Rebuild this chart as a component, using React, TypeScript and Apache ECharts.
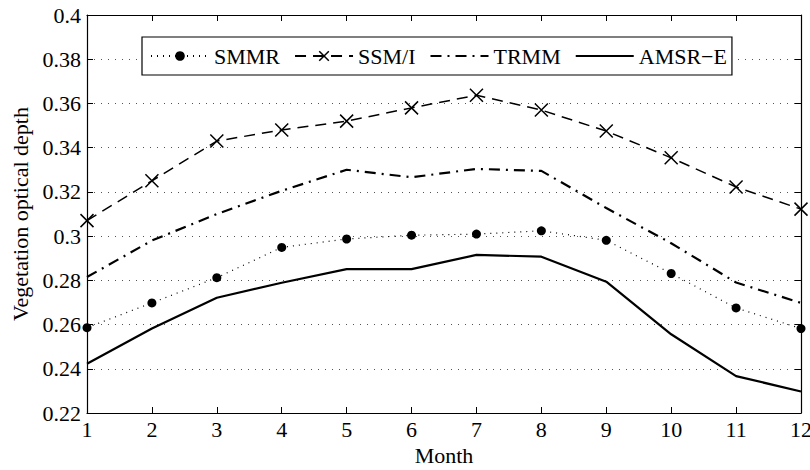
import React, { useEffect, useRef } from "react";
import * as echarts from "echarts";

const months = [1, 2, 3, 4, 5, 6, 7, 8, 9, 10, 11, 12];
const smmr = [0.2586, 0.2698, 0.2812, 0.2949, 0.2987, 0.3004, 0.3009, 0.3024, 0.2981, 0.2831, 0.2675, 0.2582];
const ssmi = [0.307, 0.325, 0.343, 0.348, 0.352, 0.358, 0.3637, 0.357, 0.3475, 0.3354, 0.3222, 0.3122];
const trmm = [0.2815, 0.298, 0.31, 0.3205, 0.33, 0.3266, 0.3304, 0.3295, 0.3127, 0.2968, 0.279, 0.2698];
const amsre = [0.2423, 0.2582, 0.2721, 0.2789, 0.2851, 0.2851, 0.2915, 0.2907, 0.2794, 0.2556, 0.2367, 0.2297];
const seriesNames = ["SMMR", "SSM/I", "TRMM", "AMSR\u2212E"];

const FONT = "Liberation Serif";

export default function App() {
  const ref = useRef<HTMLDivElement>(null);
  useEffect(() => {
    const chart = echarts.init(ref.current!, null, { renderer: "svg" });
    const pair = (arr: number[]) => arr.map((v, i) => [months[i], v]);
    const common = { color: "#000", fontFamily: FONT, fontSize: 22 };
    const frameAxis = {
      axisLine: { show: true, onZero: false, lineStyle: { color: "#000", width: 1.2 } },
      axisTick: { show: true, inside: true, length: 6, lineStyle: { color: "#000", width: 1 } },
    };
    chart.setOption({
      animation: false,
      backgroundColor: "#fff",
      grid: { left: 87, right: 9, top: 15, bottom: 57, show: false, outerBoundsMode: "none", containLabel: false },
      legend: {
        left: 142,
        top: 37,
        orient: "horizontal",
        itemWidth: 58,
        itemHeight: 12,
        itemGap: 14,
        padding: [8, 5, 8, 8],
        borderColor: "#000",
        borderWidth: 1.2,
        backgroundColor: "#fff",
        textStyle: { ...common },
        data: [
          { name: seriesNames[0] },
          { name: seriesNames[1], itemStyle: { color: "none", borderColor: "#000", borderWidth: 1.5 } },
          { name: seriesNames[2], itemStyle: { opacity: 0 } },
          { name: seriesNames[3], itemStyle: { opacity: 0 } },
        ],
      },
      xAxis: [
        {
          type: "value",
          min: 1,
          max: 12,
          interval: 1,
          name: "Month",
          nameLocation: "middle",
          nameGap: 30,
          nameTextStyle: { ...common },
          ...frameAxis,
          axisLabel: { ...common, margin: 5 },
          splitLine: { show: false },
        },
        {
          type: "value",
          position: "top",
          min: 1,
          max: 12,
          interval: 1,
          ...frameAxis,
          axisLabel: { show: false },
          splitLine: { show: false },
        },
      ],
      yAxis: [
        {
          type: "value",
          min: 0.22,
          max: 0.4,
          interval: 0.02,
          name: "Vegetation optical depth",
          nameLocation: "middle",
          nameGap: 54,
          nameRotate: 90,
          nameTextStyle: { ...common },
          ...frameAxis,
          axisLabel: {
            ...common,
            margin: 6,
            formatter: (v: number) => String(parseFloat(v.toFixed(2))),
          },
          splitLine: { show: true, lineStyle: { color: "#555", type: [1, 6], width: 1 } },
        },
        {
          type: "value",
          position: "right",
          min: 0.22,
          max: 0.4,
          interval: 0.02,
          ...frameAxis,
          axisLabel: { show: false },
          splitLine: { show: false },
        },
      ],
      series: [
        {
          name: seriesNames[0],
          type: "line",
          data: pair(smmr),
          symbol: "circle",
          symbolSize: 9,
          itemStyle: { color: "#000" },
          lineStyle: { color: "#000", width: 1.2, type: [1, 5] },
          z: 3,
        },
        {
          name: seriesNames[1],
          type: "line",
          data: pair(ssmi),
          symbol: "path://M0,0L10,10M10,0L0,10",
          symbolSize: 13,
          itemStyle: { color: "none", borderColor: "#000", borderWidth: 1.5 },
          lineStyle: { color: "#000", width: 1.5, type: [11, 7] },
          z: 3,
        },
        {
          name: seriesNames[2],
          type: "line",
          data: pair(trmm),
          symbol: "none",
          itemStyle: { color: "#000" },
          lineStyle: { color: "#000", width: 2.2, type: [11, 6, 2, 6] },
          z: 3,
        },
        {
          name: seriesNames[3],
          type: "line",
          data: pair(amsre),
          symbol: "none",
          itemStyle: { color: "#000" },
          lineStyle: { color: "#000", width: 2.2 },
          z: 3,
        },
      ],
    });
    return () => chart.dispose();
  }, []);
  return <div ref={ref} style={{ width: 810, height: 470, position: "absolute", left: 0, top: 0 }} />;
}
